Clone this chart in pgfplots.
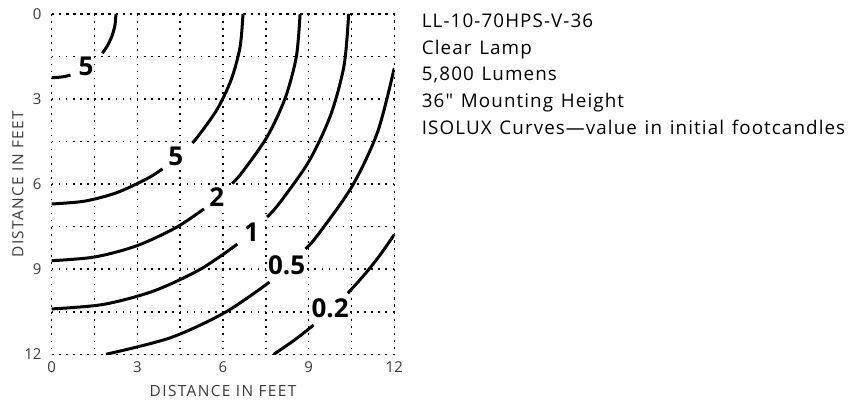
\documentclass[border=0pt]{standalone}
\usepackage{fontspec}
\setmainfont{Open Sans}[Ligatures=TeXOff]
\newfontfamily\sidefont{Open Sans}[Ligatures=TeXOff, LetterSpace=5.8, WordSpace=1.3]
\usepackage{pgfplots}
\pgfplotsset{compat=1.18}
\definecolor{labelgray}{HTML}{3A3A3A}

\tikzset{
  dotgrid/.style={black, line width=1.6bp, dash pattern=on 1.6bp off 5.5bp},
  isolux/.style={black, line width=3bp, smooth, mark=none},
  isolabel/.style={fill=white, inner sep=1bp, font=\fontsize{26bp}{26bp}\selectfont\bfseries},
}

\begin{document}
\begin{tikzpicture}
\path[use as bounding box] (-51.7bp,-47.7bp) rectangle (801.3bp,354.3bp);
\begin{axis}[
  at={(0,0)}, anchor=south west,
  x=28.55bp, y=28.36bp,
  xmin=0, xmax=12, ymin=0, ymax=12,
  y dir=reverse,
  xtick={0,3,6,9,12}, ytick={0,3,6,9,12},
  minor xtick={1.5,4.5,7.5,10.5}, minor ytick={1.5,4.5,7.5,10.5},
  grid=both,
  major grid style={dotgrid},
  minor grid style={dotgrid},
  axis line style={dotgrid},
  major tick length=0pt, minor tick length=0pt,
  /pgf/number format/assume math mode=true,
  ticklabel style={font=\fontsize{15bp}{15bp}\selectfont, text=labelgray},
  xticklabel style={yshift=-4bp},
  yticklabel style={xshift=-6.7bp},
  xlabel={DISTANCE IN FEET},
  ylabel={DISTANCE IN FEET},
  label style={font=\fontsize{15.4bp}{15.4bp}\selectfont\addfontfeature{LetterSpace=9}, text=labelgray},
  xlabel style={at={(axis description cs:0.5,0)}, anchor=base, yshift=-42.4bp},
  ylabel style={at={(axis description cs:0,0.5)}, anchor=center, yshift=33.9bp},
  clip=true,
]
% r = 2.25
\addplot[isolux] coordinates {(2.250,0) (2.216,0.391) (2.114,0.770) (1.949,1.125) (1.773,1.385)};
\addplot[isolux] coordinates {(0.658,2.152) (0.391,2.216) (0,2.250)};
% r = 6.7
\addplot[isolux] coordinates {(6.700,0) (6.598,1.163) (6.296,2.291) (5.802,3.350) (5.132,4.307) (4.924,4.544)};
\addplot[isolux] coordinates {(3.881,5.462) (3.350,5.802) (2.291,6.296) (1.163,6.598) (0,6.700)};
% r = 8.7
\addplot[isolux] coordinates {(8.700,0) (8.568,1.510) (8.175,2.975) (7.534,4.350) (6.664,5.592) (6.321,5.978)};
\addplot[isolux] coordinates {(5.332,6.875) (4.350,7.534) (2.975,8.175) (1.510,8.568) (0,8.700)};
% r = 10.4
\addplot[isolux] coordinates {(10.400,0) (10.242,1.805) (9.773,3.557) (9.006,5.200) (7.966,6.685) (7.544,7.159)};
\addplot[isolux] coordinates {(6.502,8.116) (5.200,9.006) (3.557,9.773) (1.805,10.242) (0,10.400)};
% r = 12.15
\addplot[isolux] coordinates {(12.000,1.903) (11.417,4.155) (10.522,6.075) (9.307,7.810) (8.887,8.286)};
\addplot[isolux] coordinates {(7.630,9.455) (6.075,10.522) (4.155,11.417) (1.903,12.000)};
% r = 14.3
\addplot[isolux] coordinates {(12.000,7.778) (11.496,8.506) (10.954,9.192) (10.373,9.844)};
\addplot[isolux] coordinates {(9.172,10.971) (8.506,11.496) (7.778,12.000)};

\node[isolabel] at (axis cs:1.20,1.86) {5};
\node[isolabel] at (axis cs:4.35,5.03) {5};
\node[isolabel] at (axis cs:5.78,6.44) {2};
\node[isolabel] at (axis cs:7.00,7.68) {1};
\node[isolabel] at (axis cs:8.23,8.85) {0.5};
\node[isolabel] at (axis cs:9.75,10.38) {0.2};
\end{axis}

\begin{scope}[every node/.style={anchor=base west, inner sep=0pt, font=\sidefont\fontsize{18.8bp}{18.8bp}\selectfont}]
\node at (370bp,326.6bp) {LL-10-70HPS-V-36};
\node at (370bp,300.0bp) {Clear Lamp};
\node at (370bp,273.4bp) {5,800 Lumens};
\node at (370bp,246.8bp) {36" Mounting Height};
\node at (370bp,220.2bp) {ISOLUX Curves—value in initial footcandles};
\end{scope}
\end{tikzpicture}
\end{document}
